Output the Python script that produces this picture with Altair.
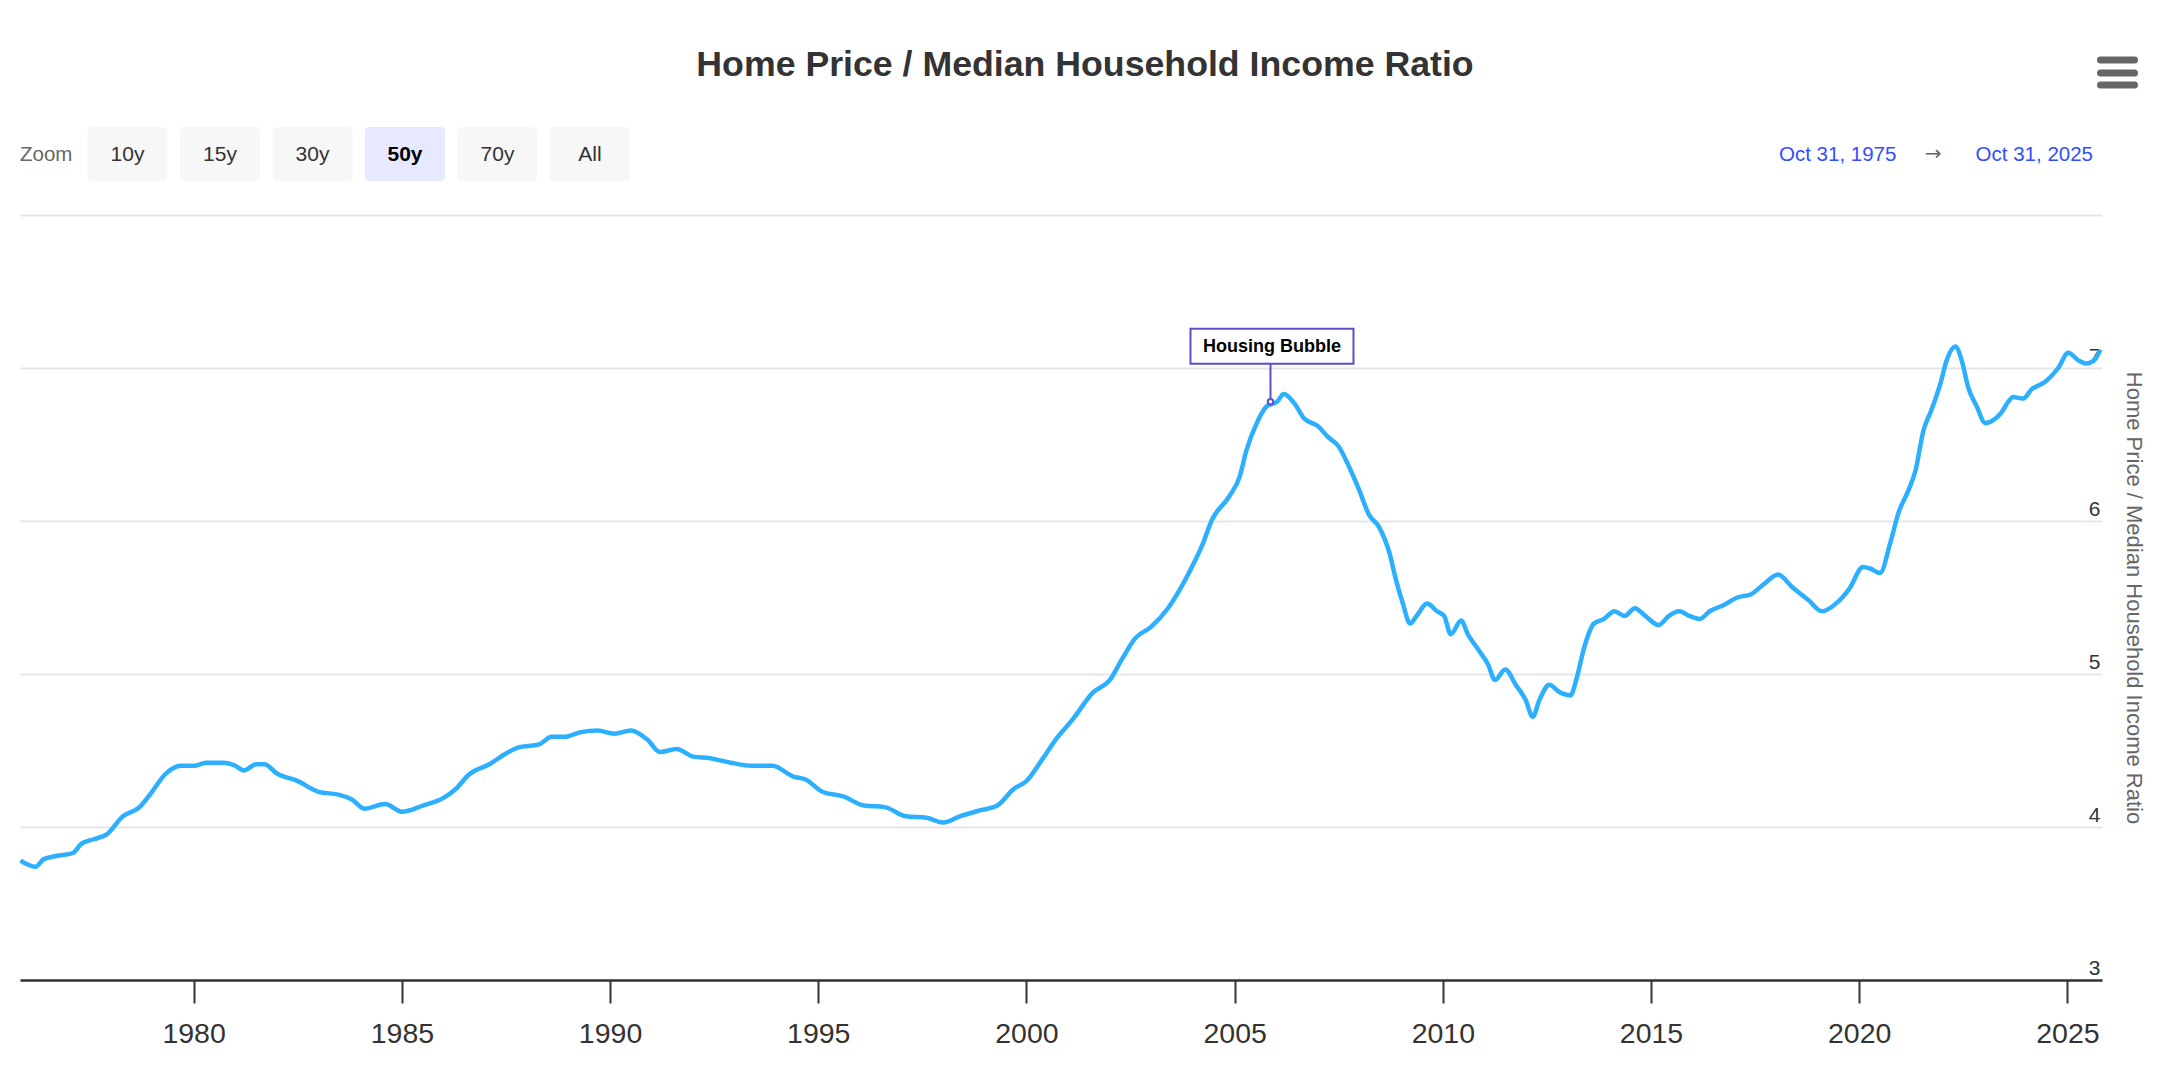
import altair as alt
import pandas as pd

# ---------------- data ----------------
YEARS = [
    1975.84, 1976.2, 1976.4, 1976.7, 1977.1, 1977.3, 1977.6, 1977.9, 1978.3, 1978.7,
    1979.0, 1979.3, 1979.7, 1980.0, 1980.3, 1980.7, 1981.0, 1981.2, 1981.5, 1981.7,
    1982.0, 1982.5, 1983.0, 1983.5, 1983.8, 1984.1, 1984.6, 1985.0, 1985.5, 1986.0,
    1986.3, 1986.6, 1987.1, 1987.5, 1987.8, 1988.3, 1988.6, 1988.9, 1989.3, 1989.7,
    1990.1, 1990.5, 1990.9, 1991.2, 1991.6, 1992.0, 1992.4, 1992.9, 1993.4, 1993.9,
    1994.4, 1994.7, 1995.1, 1995.6, 1996.1, 1996.6, 1997.1, 1997.6, 1998.0, 1998.4,
    1998.9, 1999.3, 1999.7, 2000.0, 2000.4, 2000.7, 2001.1, 2001.6, 2002.0, 2002.3,
    2002.6, 2003.0, 2003.4, 2003.9, 2004.22, 2004.46, 2004.87, 2005.12, 2005.28, 2005.53,
    2005.77, 2006.02, 2006.18, 2006.43, 2006.67, 2007.0, 2007.24, 2007.49, 2007.74, 2007.98,
    2008.23, 2008.47, 2008.72, 2008.88, 2009.04, 2009.21, 2009.37, 2009.62, 2009.86, 2010.03,
    2010.19, 2010.44, 2010.6, 2010.85, 2011.09, 2011.25, 2011.5, 2011.75, 2011.99, 2012.16,
    2012.32, 2012.56, 2012.81, 2013.06, 2013.22, 2013.38, 2013.63, 2013.87, 2014.12, 2014.37,
    2014.61, 2014.86, 2015.18, 2015.43, 2015.68, 2015.92, 2016.17, 2016.41, 2016.74, 2017.07,
    2017.39, 2017.72, 2018.05, 2018.38, 2018.79, 2019.11, 2019.44, 2019.77, 2020.09, 2020.26,
    2020.5, 2020.75, 2020.94, 2021.18, 2021.35, 2021.54, 2021.74, 2021.95, 2022.1, 2022.31,
    2022.46, 2022.62, 2022.82, 2023.03, 2023.22, 2023.42, 2023.58, 2023.7, 2023.94, 2024.14,
    2024.47, 2024.78, 2025.02, 2025.26, 2025.45, 2025.67, 2025.79,
]
RATIO = [
    3.78, 3.74, 3.79, 3.81, 3.83, 3.89, 3.92, 3.95, 4.07, 4.13,
    4.23, 4.34, 4.40, 4.40, 4.42, 4.42, 4.40, 4.37, 4.41, 4.41,
    4.35, 4.30, 4.23, 4.21, 4.18, 4.12, 4.15, 4.10, 4.14, 4.19,
    4.25, 4.34, 4.41, 4.48, 4.52, 4.54, 4.59, 4.59, 4.62, 4.63,
    4.61, 4.63, 4.57, 4.49, 4.51, 4.46, 4.45, 4.42, 4.40, 4.40,
    4.33, 4.31, 4.23, 4.20, 4.14, 4.13, 4.07, 4.06, 4.03, 4.07,
    4.11, 4.14, 4.25, 4.30, 4.45, 4.57, 4.70, 4.88, 4.96, 5.10,
    5.23, 5.31, 5.43, 5.66, 5.84, 6.01, 6.16, 6.29, 6.46, 6.64,
    6.75, 6.78, 6.83, 6.77, 6.67, 6.62, 6.55, 6.49, 6.36, 6.21,
    6.04, 5.96, 5.79, 5.61, 5.46, 5.33, 5.38, 5.46, 5.41, 5.38,
    5.26, 5.35, 5.26, 5.16, 5.06, 4.96, 5.03, 4.93, 4.83, 4.72,
    4.83, 4.93, 4.88, 4.86, 4.98, 5.16, 5.33, 5.36, 5.41, 5.38,
    5.43, 5.38, 5.32, 5.38, 5.41, 5.38, 5.36, 5.41, 5.45, 5.50,
    5.52, 5.59, 5.65, 5.57, 5.48, 5.41, 5.46, 5.56, 5.70, 5.69,
    5.66, 5.86, 6.05, 6.20, 6.33, 6.59, 6.73, 6.90, 7.05, 7.14,
    7.05, 6.87, 6.75, 6.64, 6.66, 6.71, 6.78, 6.81, 6.80, 6.86,
    6.91, 7.00, 7.10, 7.05, 7.03, 7.06, 7.12,
]

TITLE = "Home Price / Median Household Income Ratio"
Y_TITLE = "Home Price / Median Household Income Ratio"
X_TICK_YEARS = [1980, 1985, 1990, 1995, 2000, 2005, 2010, 2015, 2020, 2025]
Y_TICKS = [3, 4, 5, 6, 7, 8]
ZOOM_BUTTONS = ["10y", "15y", "30y", "50y", "70y", "All"]
SELECTED_BUTTON = "50y"
RANGE_FROM = "Oct 31, 1975"
RANGE_TO = "Oct 31, 2025"
ANNOT_LABEL = "Housing Bubble"
ANNOT_YEAR = 2005.86
ANNOT_VALUE = 6.78

# ---------------- helpers ----------------
FONT = "Liberation Sans"
W, H = 2082, 765


def dec_to_ts(y):
    yi = int(y)
    return pd.Timestamp(year=yi, month=1, day=1) + pd.Timedelta(days=(y - yi) * 365.25)


df = pd.DataFrame({"date": [dec_to_ts(y) for y in YEARS], "ratio": RATIO})
ann = pd.DataFrame({"date": [dec_to_ts(ANNOT_YEAR)], "ratio": [ANNOT_VALUE], "label": [ANNOT_LABEL]})
one = pd.DataFrame({"a": [0]})

x_scale = alt.Scale(domain=[alt.DateTime(year=1975, month=10, date=31),
                            alt.DateTime(year=2025, month=10, date=31)])
y_scale = alt.Scale(domain=[3, 8], nice=False, zero=False)

x_axis = alt.Axis(
    values=[alt.DateTime(year=y, month=1, date=1) for y in X_TICK_YEARS],
    format="%Y", grid=False, title=None,
    domainColor="#333333", domainWidth=2.5,
    tickColor="#333333", tickWidth=2, tickSize=23,
    labelFontSize=28.5, labelColor="#333333", labelFont=FONT,
    labelPadding=16, labelFlush=False, labelOverlap=False,
)
y_axis = alt.Axis(
    orient="right", values=Y_TICKS, format="d",
    labelExpr="datum.value == 8 ? '' : datum.label",
    grid=True, gridColor="#e6e6e6", gridWidth=2,
    domain=False, ticks=False, tickSize=0,
    labelAlign="right", labelPadding=-2, labelBaseline="alphabetic", labelOffset=-6,
    labelFontSize=21, labelColor="#333333", labelFont=FONT,
    title=Y_TITLE, titleFontSize=22, titleColor="#666666", titleFontWeight="normal",
    titleFont=FONT, titleAngle=90, titleX=31, titleY=H / 2,
    titleAlign="center", titleBaseline="middle",
)

line = alt.Chart(df).mark_line(color="#2caffe", strokeWidth=4.5, interpolate="monotone").encode(
    x=alt.X("date:T", scale=x_scale, axis=x_axis),
    y=alt.Y("ratio:Q", scale=y_scale, axis=y_axis),
)

PURPLE = "#5a4fcf"
ann_x = alt.X("date:T", scale=x_scale)
ann_y = alt.Y("ratio:Q", scale=y_scale)
conn = alt.Chart(ann).mark_rule(color=PURPLE, strokeWidth=2, yOffset=-3, y2Offset=-38).encode(
    x=ann_x, y=ann_y, y2="ratio:Q")
box = alt.Chart(ann).mark_rect(fill="white", stroke=PURPLE, strokeWidth=2,
                               xOffset=-80, x2Offset=83, yOffset=-73, y2Offset=-38).encode(
    x=ann_x, x2="date:T", y=ann_y, y2="ratio:Q")
box_text = alt.Chart(ann).mark_text(font=FONT, fontSize=18, fontWeight="bold", color="#000000",
                                    dx=1.5, dy=-55, baseline="middle", align="center").encode(
    x=ann_x, y=ann_y, text="label:N")
pt = alt.Chart(ann).mark_point(shape="circle", size=30, filled=True, fill="white",
                               stroke=PURPLE, strokeWidth=2, opacity=1).encode(x=ann_x, y=ann_y)


def txt(s, x, y, size, color, weight="normal", align="left", font=FONT):
    return alt.Chart(pd.DataFrame({"t": [s]})).mark_text(
        align=align, baseline="middle", fontSize=size, color=color,
        fontWeight=weight, font=font).encode(x=alt.value(x), y=alt.value(y), text="t:N")


def rect(x0, x1, y0, y1, color, radius=4):
    return alt.Chart(one).mark_rect(color=color, cornerRadius=radius).encode(
        x=alt.value(x0), x2=alt.value(x1), y=alt.value(y0), y2=alt.value(y1))


deco = []
# chart title
deco.append(txt(TITLE, 1065, -150, 35.7, "#333333", "bold", "center"))
# zoom label + buttons
deco.append(txt("Zoom", 0, -60, 20.5, "#666666"))
for i, lab in enumerate(ZOOM_BUTTONS):
    x0 = 67.5 + i * 92.5
    sel = lab == SELECTED_BUTTON
    deco.append(rect(x0, x0 + 80, -88, -34, "#e6e9ff" if sel else "#f7f7f7"))
    deco.append(txt(lab, x0 + 40, -60, 21, "#000000" if sel else "#333333",
                    "bold" if sel else "normal", "center"))
# range inputs
deco.append(txt(RANGE_FROM, 1759, -60, 20.5, "#334eff"))
deco.append(txt("\u2192", 1913, -61, 20, "#666666", "normal", "center", "DejaVu Sans"))
deco.append(txt(RANGE_TO, 2073, -60, 20.5, "#334eff", "normal", "right"))
# context menu (hamburger)
for yy in (-155, -142, -130):
    deco.append(alt.Chart(one).mark_rule(color="#666666", strokeWidth=7, strokeCap="round").encode(
        x=alt.value(2080.5), x2=alt.value(2114.5), y=alt.value(yy)))

chart = alt.layer(line, conn, box, box_text, pt, *deco).properties(
    width=W, height=H,
    padding={"left": 12, "top": 207, "right": 52, "bottom": 90},
    autosize=alt.AutoSizeParams(type="none"),
    background="white",
).configure_view(stroke=None)

chart.save("out.html", embed_options={"renderer": "svg", "actions": False})
